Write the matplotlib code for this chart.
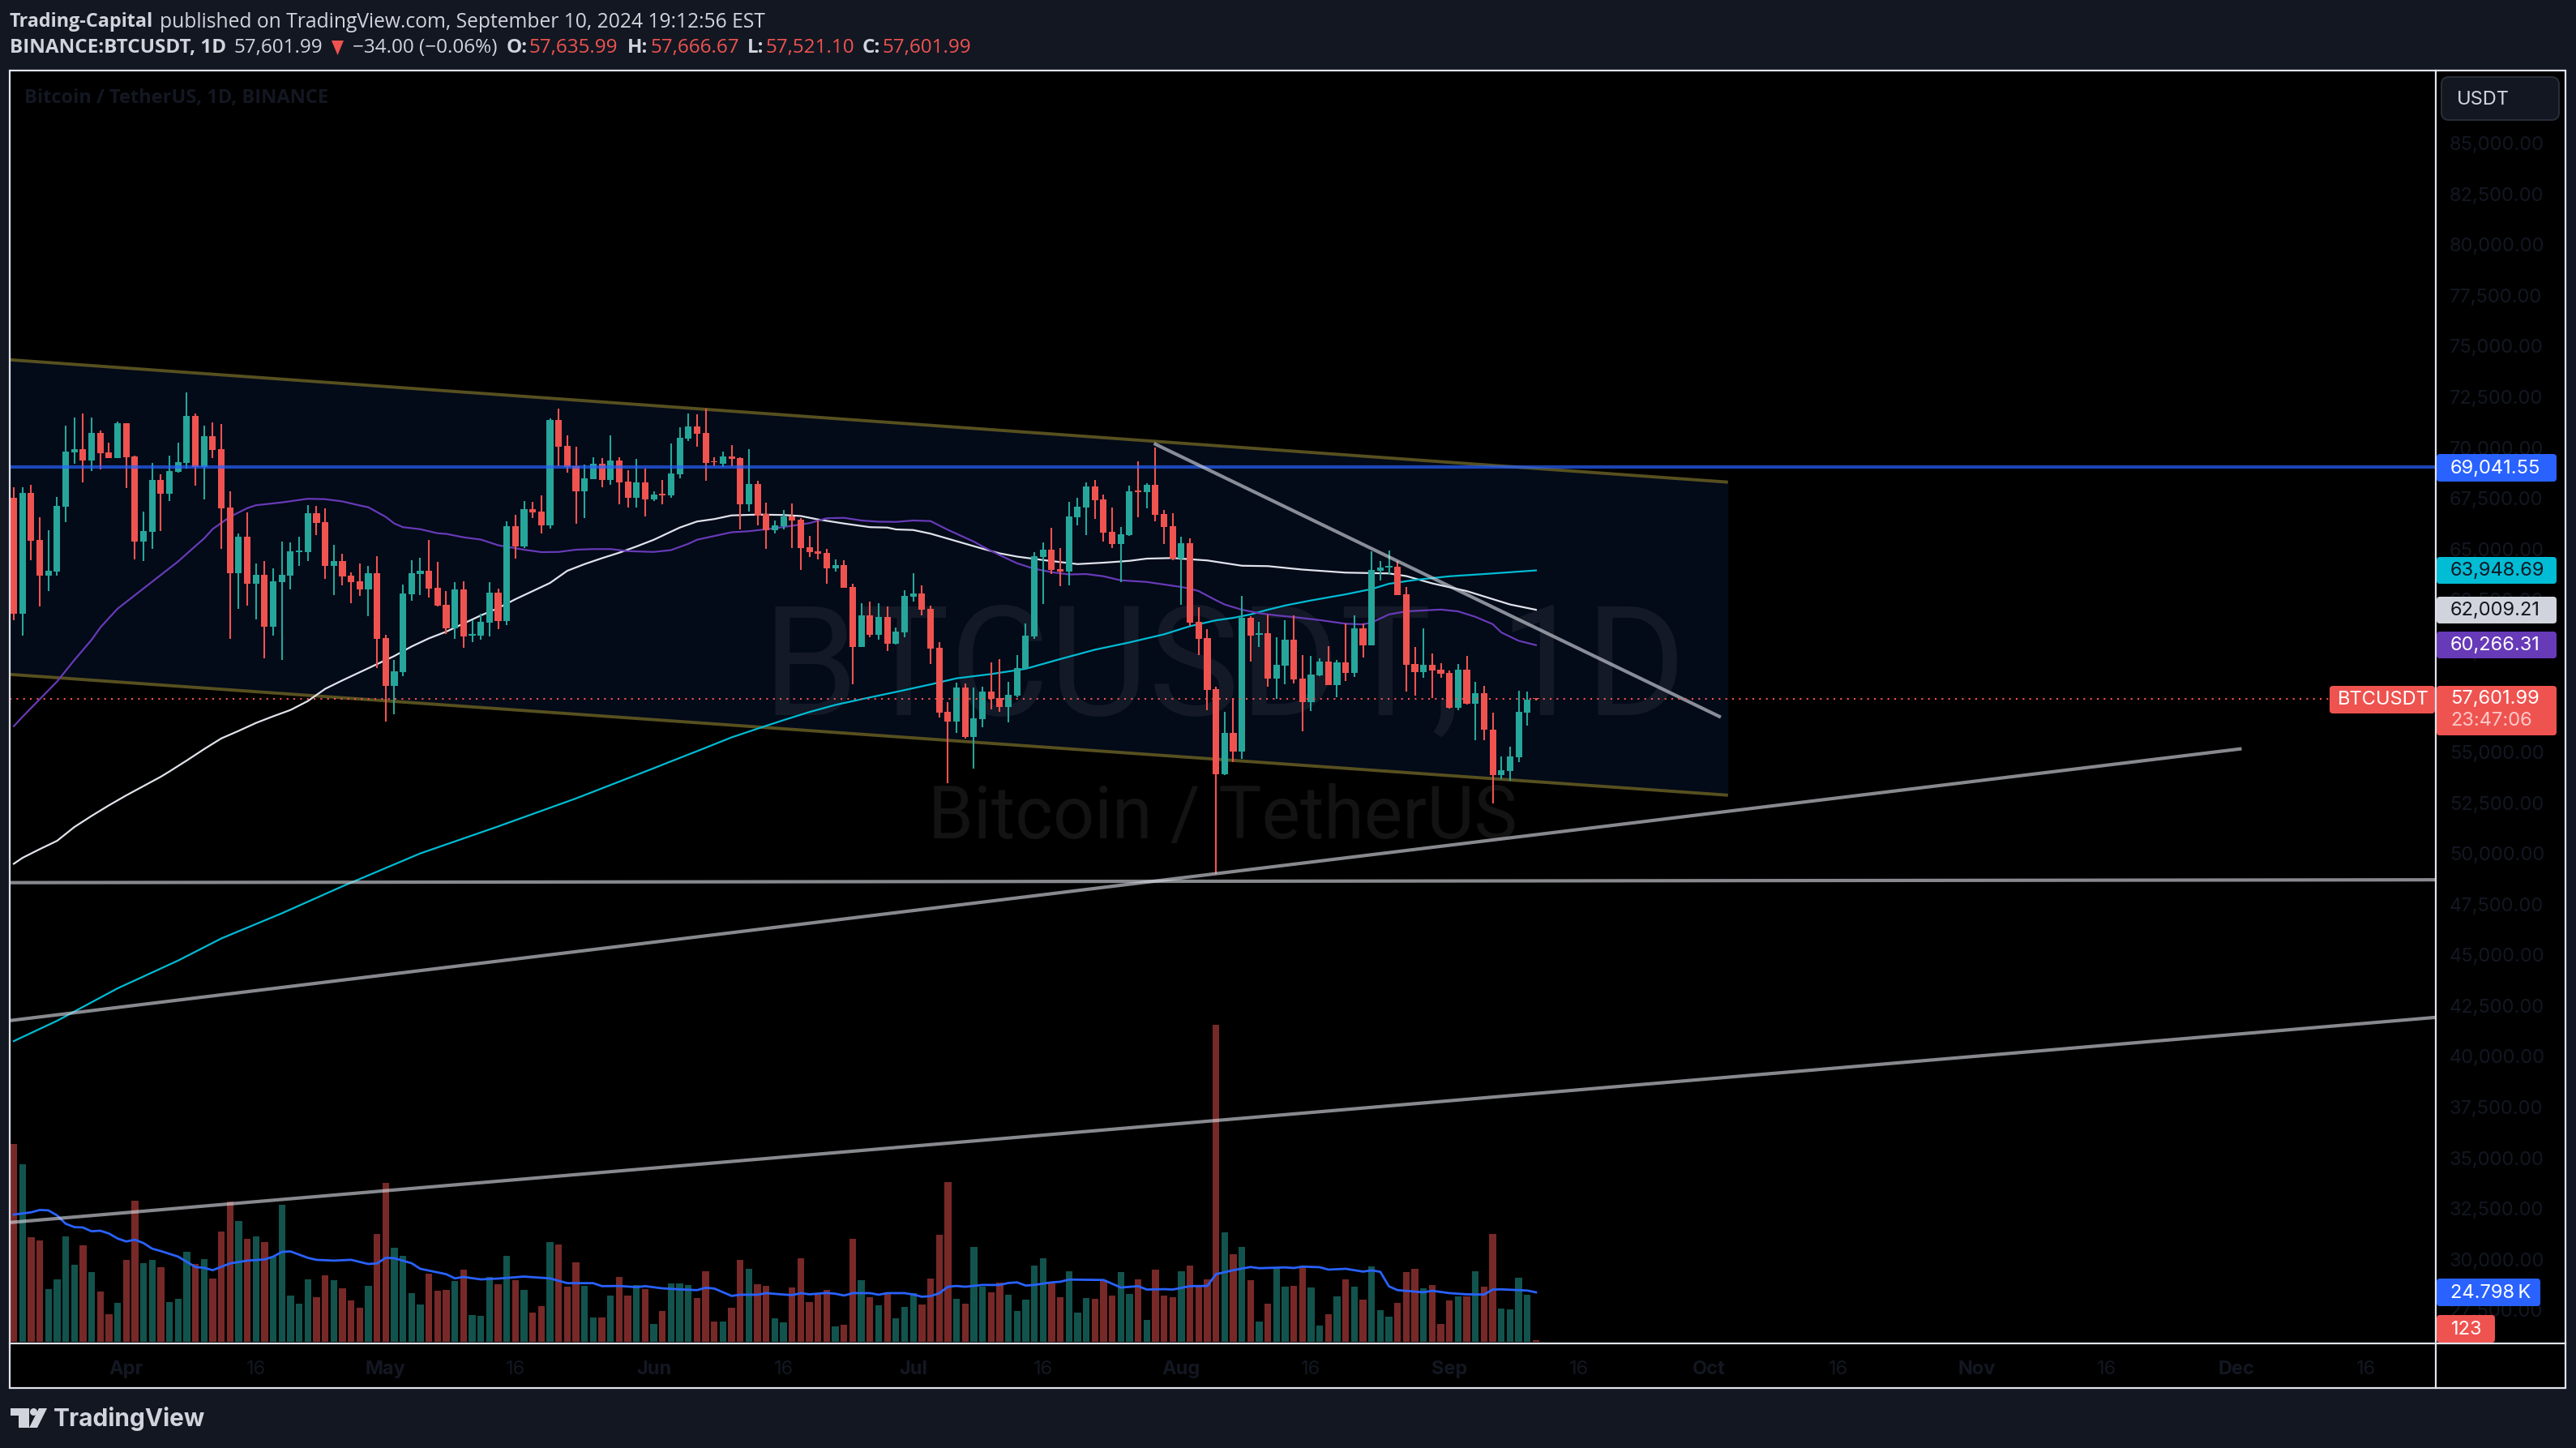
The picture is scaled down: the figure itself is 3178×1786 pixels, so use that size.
"""BTCUSDT daily chart, TradingView dark look"""
import numpy as np
import pandas as pd
import matplotlib
matplotlib.use('Agg')
import matplotlib.pyplot as plt
from matplotlib.patches import FancyBboxPatch, Polygon, Rectangle, Circle

W, H = 3178, 1786

# candles, first one is 2024-03-19
start_date = pd.Timestamp('2024-03-19')
opens = [
    67540, 61820, 67780, 65460, 63700, 63900, 67100, 69770, 69930, 69370,
    70730, 69770, 69490, 71210, 69570, 65380, 65860, 68420, 67740, 68820,
    69250, 71570, 69050, 70570, 69930, 67060, 63820, 65620, 63300, 63740,
    61180, 63380, 63700, 64860, 64860, 66780, 66340, 64180, 64420, 63700,
    63420, 63020, 63820, 60620, 58260, 58950, 62780, 63780, 63940, 63100,
    62260, 61100, 63020, 60740, 60740, 61380, 62860, 61460, 66140, 65140,
    66980, 66860, 66180, 71370, 70090, 69100, 67860, 68460, 69210, 68420,
    69370, 68340, 67540, 68300, 67460, 67740, 67660, 68690, 70450, 71050,
    70730, 69330, 69210, 69570, 69490, 67220, 68220, 66710, 65940, 66140,
    66620, 66460, 65100, 64900, 64820, 64060, 64220, 63140, 60180, 61740,
    60780, 61660, 60340, 60900, 62660, 62820, 62060, 60140, 56990, 56510,
    58190, 55750, 56630, 57990, 57670, 57230, 57790, 59100, 60700, 64620,
    64980, 64020, 63900, 66580, 67060, 68100, 67460, 65860, 65260, 65690,
    67900, 67820, 68180, 66730, 66140, 64550, 65300, 61430, 60630, 58110,
    53920, 55950, 55040, 61630, 60770, 60860, 58630, 59270, 60540, 58630,
    57440, 58780, 59440, 58310, 59410, 58900, 61110, 60260, 63950, 64100,
    64150, 62790, 59350, 58950, 59300, 59070, 58900, 57190, 59070, 57390,
    57910, 56110, 53870, 54070, 54750, 56950, 57635.99]
highs = [
    68060, 68060, 68180, 66580, 65940, 67580, 71090, 71490, 71690, 71490,
    70850, 70250, 71290, 71210, 69610, 66860, 69250, 68690, 69610, 70250,
    72730, 71690, 71090, 71250, 71170, 67860, 65780, 66820, 64300, 64420,
    64060, 65380, 65340, 65620, 67180, 67140, 67020, 65220, 64780, 63860,
    64300, 64180, 64660, 60780, 59540, 63260, 64460, 64580, 65460, 64380,
    62940, 63380, 63420, 61500, 61820, 63380, 63060, 66380, 66700, 67380,
    67340, 67660, 71450, 71930, 70610, 70050, 69170, 69530, 69490, 70610,
    69530, 68900, 69450, 68970, 67860, 68420, 70210, 71010, 71690, 71650,
    71930, 69530, 69810, 70130, 69530, 69930, 68370, 67300, 66420, 66940,
    67260, 66540, 65660, 66420, 65020, 64500, 64460, 63300, 62340, 62420,
    62340, 62180, 61140, 62980, 63820, 63220, 62220, 60420, 57470, 58430,
    58390, 58190, 58230, 59420, 59580, 58460, 59780, 61340, 64860, 65340,
    66060, 65060, 67340, 67540, 68300, 68420, 67700, 67060, 66100, 68140,
    69330, 68260, 70010, 66930, 66780, 65620, 65520, 62150, 61060, 58220,
    56990, 57670, 62700, 61700, 61430, 61780, 60660, 61500, 61750, 59790,
    59740, 59620, 60220, 59550, 61350, 61750, 61350, 64900, 64420, 64940,
    64410, 63140, 60190, 61110, 59870, 59390, 59030, 59350, 59740, 58460,
    58260, 56950, 54790, 55260, 58030, 57990, 57666.67]
lows = [
    61500, 60720, 64460, 62180, 62940, 63700, 66340, 69210, 68300, 68850,
    68940, 69490, 69490, 68020, 64500, 64420, 65020, 65900, 67380, 68780,
    68970, 68140, 67460, 69490, 65020, 60580, 62060, 62220, 61540, 59620,
    60740, 59540, 63020, 64180, 64420, 65700, 63540, 62740, 63220, 62340,
    62700, 61700, 59150, 56510, 56870, 58750, 62460, 62740, 62620, 62180,
    60820, 60580, 60140, 60420, 60540, 60700, 61060, 61260, 64540, 65060,
    66540, 65780, 66020, 69100, 68780, 66260, 66540, 68460, 68060, 68180,
    67220, 67060, 67060, 66620, 67380, 67220, 67540, 68500, 70330, 70050,
    68370, 69100, 69050, 69100, 65980, 66860, 66180, 65020, 65780, 65980,
    65060, 63980, 64620, 64500, 63300, 63900, 63100, 58340, 60180, 60660,
    60540, 59980, 60300, 60660, 62420, 61740, 59340, 56710, 53470, 55950,
    55670, 54190, 56230, 57110, 56990, 56470, 57710, 59100, 60580, 62300,
    63780, 63180, 63220, 66180, 65700, 66500, 65380, 65060, 63380, 65660,
    66580, 67020, 66380, 65260, 64450, 62240, 61200, 59790, 57070, 48970,
    53860, 54520, 54670, 59470, 60190, 58230, 57600, 58350, 58380, 56030,
    57020, 58720, 58310, 57710, 58510, 58710, 59670, 60260, 63460, 63720,
    62740, 57990, 57790, 58670, 57640, 58670, 57150, 57070, 57340, 55560,
    55590, 52470, 53670, 53570, 54520, 56300, 57521.10]
closes = [
    61820, 67780, 65420, 63700, 63940, 67140, 69810, 69930, 69370, 70730,
    69730, 69490, 71210, 69530, 65380, 65900, 68420, 67740, 68850, 69290,
    71570, 69050, 70570, 69890, 67020, 63820, 65620, 63300, 63740, 61180,
    63420, 63740, 64900, 64940, 66780, 66300, 64180, 64420, 63660, 63380,
    63020, 63820, 60580, 58260, 58980, 62820, 63820, 63940, 63060, 62220,
    61100, 63020, 60700, 60820, 61420, 62860, 61460, 66140, 65140, 66980,
    66820, 66180, 71370, 70050, 69050, 67860, 68500, 69210, 68420, 69370,
    68300, 67540, 68300, 67460, 67700, 67660, 68730, 70490, 71050, 70690,
    69250, 69290, 69570, 69450, 67220, 68220, 66660, 65940, 66180, 66620,
    66420, 65060, 64860, 64780, 64060, 64220, 63100, 60180, 61740, 60780,
    61660, 60340, 60940, 62700, 62820, 62020, 60100, 56950, 56510, 58190,
    55750, 56670, 57990, 57630, 57230, 57830, 59150, 60740, 64660, 64980,
    63980, 63900, 66620, 67100, 68100, 67420, 65820, 65260, 65740, 67860,
    67820, 68180, 66700, 66100, 64550, 65300, 61380, 60590, 58060, 53920,
    55950, 55040, 61630, 60740, 60860, 58630, 59300, 60540, 58580, 57440,
    58830, 59440, 58310, 59410, 58900, 61110, 60260, 63980, 64100, 64180,
    62740, 59300, 58950, 59300, 59030, 58870, 57190, 59070, 57390, 57910,
    56080, 53870, 54120, 54790, 56990, 57570, 57601.99]

# volume in thousands
volumes = [
    99.2, 89.0, 52.4, 50.8, 26.4, 31.3, 52.8, 38.6, 48.4, 35.0,
    25.2, 13.8, 19.5, 41.1, 70.7, 39.4, 41.1, 37.4, 19.9, 21.5,
    45.1, 39.0, 41.5, 31.7, 55.3, 70.3, 60.6, 51.6, 52.8, 50.0,
    42.7, 68.7, 23.2, 19.1, 31.3, 22.4, 33.3, 30.9, 26.8, 20.7,
    17.1, 28.0, 54.1, 79.7, 47.2, 43.1, 24.4, 18.7, 34.1, 25.6,
    26.0, 30.5, 36.2, 13.4, 13.0, 32.5, 28.9, 43.1, 30.9, 26.0,
    14.6, 17.9, 50.0, 48.8, 27.6, 39.8, 28.0, 12.2, 12.2, 23.2,
    32.5, 23.2, 28.5, 26.4, 8.9, 15.4, 29.3, 29.3, 28.5, 22.0,
    35.4, 10.2, 10.2, 17.1, 41.1, 36.6, 28.9, 28.0, 11.8, 9.8,
    27.2, 41.9, 19.9, 23.6, 26.0, 7.7, 8.5, 51.6, 30.9, 22.4,
    18.3, 24.8, 11.8, 17.5, 24.4, 18.7, 31.7, 53.7, 80.1, 21.5,
    19.1, 47.6, 27.6, 24.8, 29.7, 23.6, 15.4, 21.1, 38.2, 41.9,
    29.3, 22.4, 35.4, 14.6, 22.0, 21.5, 30.9, 23.2, 35.0, 24.0,
    31.3, 11.0, 36.2, 23.2, 22.4, 35.4, 38.2, 28.0, 31.3, 158.9,
    54.9, 43.9, 47.6, 30.9, 10.2, 19.1, 37.0, 27.6, 28.0, 37.4,
    27.2, 8.1, 13.8, 22.8, 31.3, 27.6, 21.1, 37.8, 15.9, 12.6,
    19.5, 35.0, 36.6, 26.8, 28.5, 8.9, 20.7, 22.8, 22.8, 35.4,
    27.6, 54.1, 16.7, 16.3, 32.1, 23.6, 0.123]

# moving averages, bar number and value
vma_bars = [1, 3, 4, 5, 6, 7, 8, 9, 10, 11, 12, 13, 14, 15, 16, 17, 18, 20, 22, 23, 24,
            26, 28, 30, 31, 32, 33, 35, 36, 38, 40, 42, 43, 44, 45, 47, 48, 51, 52, 53,
            55, 57, 60, 63, 65, 68, 69, 71, 73, 74, 76, 78, 80, 81, 82, 84, 85, 87, 88,
            90, 91, 92, 93, 95, 96, 97, 98, 100, 101, 102, 104, 105, 106, 107, 108, 109,
            110, 111, 113, 115, 116, 117, 118, 119, 121, 122, 123, 127, 129, 131, 132,
            134, 135, 137, 139, 140, 142, 144, 145, 148, 149, 150, 152, 153, 155, 157,
            158, 159, 160, 161, 164, 165, 167, 169, 171, 172, 173, 176, 177]
vma_vals = [63.8, 64.9, 66.1, 65.9, 63.4, 59.2, 57.5, 57.3, 55.4, 55.7, 54.3, 51.8, 50.3,
            51.2, 49.5, 46.7, 45.5, 42.7, 37.5, 37.1, 35.9, 39.3, 40.7, 41.3, 42.7, 45.1,
            45.3, 42.1, 41.1, 40.7, 41.1, 39.0, 39.3, 42.1, 41.9, 39.4, 36.6, 33.9, 31.8,
            32.5, 31.3, 31.7, 32.7, 31.8, 29.4, 29.4, 27.9, 28.0, 27.4, 27.9, 26.8, 26.3,
            25.9, 27.1, 26.7, 23.0, 23.6, 23.6, 24.4, 23.7, 23.4, 24.4, 23.8, 24.5, 24.1,
            23.2, 24.4, 24.4, 23.6, 24.4, 24.4, 23.7, 22.6, 22.9, 24.3, 27.6, 28.0, 27.6,
            28.5, 28.5, 29.5, 29.8, 28.2, 28.5, 29.8, 30.1, 31.2, 31.0, 27.2, 27.9, 26.2,
            26.4, 26.2, 27.9, 28.0, 33.9, 35.9, 37.5, 36.9, 37.3, 37.0, 37.7, 37.4, 36.2,
            36.6, 35.2, 35.8, 35.1, 27.8, 25.9, 24.8, 25.6, 24.4, 23.8, 23.7, 26.2, 26.3,
            25.7, 24.798]

purple_bars = [1, 2, 4, 6, 8, 10, 11, 12, 13, 16, 20, 22, 23, 24, 26, 28, 29, 32, 35, 37,
               39, 41, 42, 44, 45, 46, 48, 50, 51, 53, 55, 57, 60, 62, 64, 66, 68, 70, 72,
               75, 77, 79, 80, 84, 86, 89, 91, 93, 95, 97, 99, 101, 103, 105, 107, 109,
               112, 113, 115, 117, 119, 121, 123, 125, 127, 129, 132, 136, 137, 138, 140,
               141, 143, 145, 147, 149, 152, 155, 157, 158, 160, 162, 166, 168, 170, 172,
               173, 175, 177]
purple_vals = [56270, 56730, 57600, 58470, 59530, 60530, 61130, 61600, 62060, 63060, 64390,
               65150, 65520, 65990, 66590, 67020, 67160, 67300, 67480, 67460, 67350, 67150,
               67060, 66590, 66260, 66080, 65980, 65780, 65750, 65580, 65470, 65190, 64970,
               64850, 64860, 64970, 65000, 65000, 64900, 64860, 64950, 65260, 65460, 65830,
               65880, 66030, 66150, 66280, 66520, 66540, 66410, 66350, 66340, 66410, 66380,
               65950, 65370, 65130, 64700, 64300, 64030, 63860, 63750, 63770, 63660, 63460,
               63380, 63130, 63050, 62930, 62480, 62270, 62010, 61840, 61730, 61650, 61500,
               61320, 61290, 61380, 61780, 61930, 62020, 61930, 61660, 61300, 60890, 60480,
               60266.31]

white_bars = [1, 2, 4, 6, 8, 10, 12, 14, 16, 18, 19, 21, 23, 25, 27, 29, 31, 33, 35, 37, 39,
              41, 43, 45, 47, 49, 51, 53, 55, 57, 59, 61, 63, 65, 67, 69, 71, 73, 75, 76,
              78, 80, 82, 84, 87, 90, 92, 94, 97, 100, 102, 103, 105, 107, 110, 113, 115,
              117, 120, 124, 127, 130, 132, 135, 139, 143, 146, 150, 155, 160, 162, 165,
              169, 174, 177]
white_vals = [49490, 49780, 50210, 50620, 51300, 51850, 52370, 52860, 53320, 53780, 54040,
              54580, 55140, 55670, 56040, 56430, 56760, 57070, 57510, 58110, 58530, 58930,
              59330, 59730, 60200, 60600, 60930, 61330, 61730, 62090, 62530, 62930, 63330,
              63930, 64260, 64550, 64820, 65130, 65460, 65660, 66060, 66360, 66480, 66660,
              66700, 66680, 66630, 66460, 66260, 66080, 66060, 65970, 65940, 65760, 65390,
              65020, 64790, 64630, 64460, 64260, 64330, 64420, 64530, 64560, 64440, 64180,
              64160, 63990, 63840, 63800, 63670, 63310, 62930, 62270, 62009.21]

cyan_bars = [1, 6, 13, 20, 25, 32, 39, 48, 57, 66, 75, 77, 80, 84, 87, 90, 93, 96, 99, 103,
             107, 110, 114, 118, 122, 126, 130, 134, 137, 140, 142, 144, 146, 148, 151,
             155, 158, 160, 163, 167, 171, 177]
cyan_vals = [40750, 41750, 43350, 44720, 45810, 47050, 48380, 50000, 51330, 52710, 54200,
             54540, 55040, 55720, 56150, 56570, 56970, 57320, 57600, 57960, 58330, 58630,
             58840, 59100, 59580, 60040, 60400, 60800, 61200, 61490, 61610, 61780, 62010,
             62220, 62470, 62770, 63030, 63290, 63480, 63660, 63770, 63948.69]

# drawn objects, days from first candle and price
channel_days = [-0.47, 198.2]
channel_top = [74330, 68300]
channel_bottom = [58825, 52870]
down_days = [132, 197.2]
down_prices = [70170, 56750]
rise_days = [-0.47, 257.4]
rise_prices = [41760, 55150]
low_rise_days = [-0.47, 280.04]
low_rise_prices = [31810, 41920]
flat_days = [-0.47, 280.04]
flat_prices = [48560, 48700]
level_price = 69041.55
last_price = 57601.99

price_ticks = list(range(27500, 85001, 2500))
tick_dates = ['2024-04-01', '2024-04-16', '2024-05-01', '2024-05-16', '2024-06-01',
              '2024-06-16', '2024-07-01', '2024-07-16', '2024-08-01', '2024-08-16',
              '2024-09-01', '2024-09-16', '2024-10-01', '2024-10-16', '2024-11-01',
              '2024-11-16', '2024-12-01', '2024-12-16']
tick_labels = ['Apr', '16', 'May', '16', 'Jun', '16', 'Jul', '16', 'Aug', '16',
               'Sep', '16', 'Oct', '16', 'Nov', '16', 'Dec', '16']

UP = '#26a69a'
DOWN = '#ef5350'
PAGE = '#131722'
FAINT = '#131722'
LIGHT = '#d1d4dc'
FRAME = '#e0e3eb'
SANS = ['Open Sans', 'DejaVu Sans']

L, R, T, B = 12, 3005, 87, 1657

fig = plt.figure(figsize=(W / 100, H / 100), dpi=100, facecolor=PAGE)

# black panel behind everything, pixel coordinates
bg = fig.add_axes([0, 0, 1, 1], zorder=0)
bg.set_xlim(0, W)
bg.set_ylim(H, 0)
bg.axis('off')
bg.add_patch(Rectangle((L, T), 3165 - L, 1712 - T, facecolor='black', edgecolor='none'))

axpos = [L / W, 1 - B / H, (R - L) / W, (B - T) / H]
xlim = (-0.469, 280.04)

# volume pane
ax_v = fig.add_axes(axpos, zorder=1)
ax_v.patch.set_visible(False)
ax_v.axis('off')
ax_v.set_xlim(*xlim)
ax_v.set_ylim(-0.81, 637.4)

# price pane
ax = fig.add_axes(axpos, zorder=2)
ax.patch.set_visible(False)
for sp in ax.spines.values():
    sp.set_visible(False)
ax.set_xlim(*xlim)
ax.set_ylim(25850, 88586)

days = np.arange(len(opens))
o, h, l, c = map(np.array, (opens, highs, lows, closes))
colors = [DOWN if c[i] < o[i] else UP for i in days]

ax_v.bar(days, np.maximum(volumes, 0.7), width=0.78, color=colors, alpha=0.5, linewidth=0)
ax_v.plot(np.array(vma_bars) - 1, vma_vals, color='#2962ff', lw=2)

# channel fill and watermarks under the candles
ax.fill_between(channel_days, channel_top, channel_bottom, color='#030a18', lw=0, zorder=1)
pix = bg.transData
ax.text(1510, 882, 'BTCUSDT, 1D', transform=pix, ha='center', va='baseline',
        family='Roboto', fontsize=136, color='#131926', zorder=1.5)
ax.text(1508, 1034, 'Bitcoin / TetherUS', transform=pix, ha='center', va='baseline',
        family='Roboto', fontsize=64.5, color='#131313', zorder=1.5)
ax.plot(channel_days, channel_top, color='#57501f', lw=2.8, zorder=2, solid_capstyle='butt')
ax.plot(channel_days, channel_bottom, color='#57501f', lw=2.8, zorder=2, solid_capstyle='butt')

ax.plot(np.array(white_bars) - 1, white_vals, color=FRAME, lw=1.6, zorder=3)
ax.plot(np.array(cyan_bars) - 1, cyan_vals, color='#00bcd4', lw=1.6, zorder=3)
ax.plot(np.array(purple_bars) - 1, purple_vals, color='#673ab7', lw=1.6, zorder=3)

ax.vlines(days, l, h, colors=colors, lw=1.5, zorder=4)
ax.bar(days, np.maximum(np.abs(c - o), 40), bottom=np.minimum(o, c), width=0.76,
       color=colors, linewidth=0, zorder=5)

# trend lines sit over the candles
ax.axhline(level_price, color='#2962ff', alpha=0.7, lw=3, zorder=6)
for xs, ys in [(down_days, down_prices), (rise_days, rise_prices),
               (low_rise_days, low_rise_prices), (flat_days, flat_prices)]:
    ax.plot(xs, ys, color=LIGHT, alpha=0.65, lw=3, zorder=6)
ax.plot([-0.47, 267.8], [last_price, last_price], color=DOWN, lw=1.5, ls=(0, (1, 3)), zorder=6)

ax.yaxis.tick_right()
ax.set_yticks(price_ticks)
ax.set_yticklabels([f'{v:,.2f}' for v in price_ticks], family='Inter', fontsize=17, color=FAINT)
ax.tick_params(axis='y', length=0, pad=12)
ax.set_xticks([(pd.Timestamp(d) - start_date).days for d in tick_dates])
ax.set_xticklabels(tick_labels, family='Inter', fontsize=17, color=FAINT)
for lab, txt in zip(ax.get_xticklabels(), tick_labels):
    if txt != '16':
        lab.set_fontweight('bold')
ax.tick_params(axis='x', length=0, pad=15)

# overlay for header, badges and frame
ov = fig.add_axes([0, 0, 1, 1], zorder=5)
ov.patch.set_visible(False)
ov.set_xlim(0, W)
ov.set_ylim(H, 0)
ov.axis('off')

ov.add_patch(Rectangle((L, T), 3165 - L, 1712 - T, fill=False, edgecolor=FRAME, lw=1.6))
ov.plot([R, R], [T, 1712], color=FRAME, lw=1.6)
ov.plot([L, 3165], [B, B], color=FRAME, lw=1.6)


def put(x, y, s, color=LIGHT, weight='normal', size=17.5, family=SANS, ha='left'):
    ov.text(x, y, s, color=color, fontweight=weight, fontsize=size, family=family,
            ha=ha, va='center')


def badge(x0, x1, y0, y1, color):
    ov.add_patch(FancyBboxPatch((x0, y0), x1 - x0, y1 - y0, boxstyle='round,pad=0,rounding_size=4',
                                facecolor=color, edgecolor='none'))


# header
put(12, 27, 'Trading-Capital', weight='bold', size=16.8)
put(197, 27, 'published on TradingView.com, September 10, 2024 19:12:56 EST', size=17.7)
put(12, 59, 'BINANCE:BTCUSDT, 1D', weight='bold')
put(289, 59, '57,601.99')
ov.add_patch(Polygon([(409, 50), (424, 50), (416.5, 68)], facecolor=DOWN, edgecolor='none'))
put(435, 59, '\u221234.00 (\u22120.06%)')
for lx, name, vx, val in [(625, 'O:', 653, '57,635.99'), (774, 'H:', 802, '57,666.67'),
                          (922, 'L:', 945, '57,521.10'), (1064, 'C:', 1089, '57,601.99')]:
    put(lx, 59, name, weight='bold')
    put(vx, 59, val, color=DOWN)
put(30, 121, 'Bitcoin / TetherUS, 1D, BINANCE', color=FAINT, weight='bold', size=17)

# scale badges
badge(3006, 3154, 560, 594, '#2962ff')
put(3023, 578, '69,041.55', color='white', size=17, family='Inter')
badge(3006, 3154, 687, 720, '#00bcd4')
put(3023, 704, '63,948.69', color='#131722', size=17, family='Inter')
badge(3006, 3154, 736, 769, LIGHT)
put(3023, 753, '62,009.21', color='#131722', size=17, family='Inter')
badge(3006, 3154, 779, 812, '#673ab7')
put(3023, 796, '60,266.31', color='white', size=17, family='Inter')
badge(3006, 3154, 846, 907, DOWN)
put(3023, 862, '57,601.99', color='white', size=17, family='Inter')
put(3023, 889, '23:47:06', color='#fbc9c8', size=17, family='Inter')
badge(2874, 3004, 846, 880, DOWN)
put(2884, 863, 'BTCUSDT', color='white', size=17, family='Inter')
badge(3006, 3134, 1577, 1611, '#2962ff')
put(3023, 1595, '24.798\u2009K', color='white', size=17, family=['Inter', 'DejaVu Sans'])
badge(3006, 3078, 1622, 1656, DOWN)
put(3024, 1640, '123', color='white', size=17, family='Inter')

# currency button
ov.add_patch(FancyBboxPatch((3012, 95), 145, 53, boxstyle='round,pad=0,rounding_size=9',
                            facecolor=PAGE, edgecolor='#2a2e39', lw=1.4))
put(3031, 123, 'USDT', size=17, family='Inter')

# logo
ov.add_patch(Polygon([(13, 1737), (36, 1737), (36, 1761), (23, 1761), (23, 1746), (13, 1746)],
                     facecolor=LIGHT, edgecolor='none'))
ov.add_patch(Circle((41.5, 1741.5), 4.5, facecolor=LIGHT, edgecolor='none'))
ov.add_patch(Polygon([(48, 1737), (58, 1737), (46, 1761), (36, 1761)],
                     facecolor=LIGHT, edgecolor='none'))
put(66, 1750, 'TradingView', weight='bold', size=21.5, family='Inter')

fig.savefig('out.png', dpi=100, facecolor=PAGE)
